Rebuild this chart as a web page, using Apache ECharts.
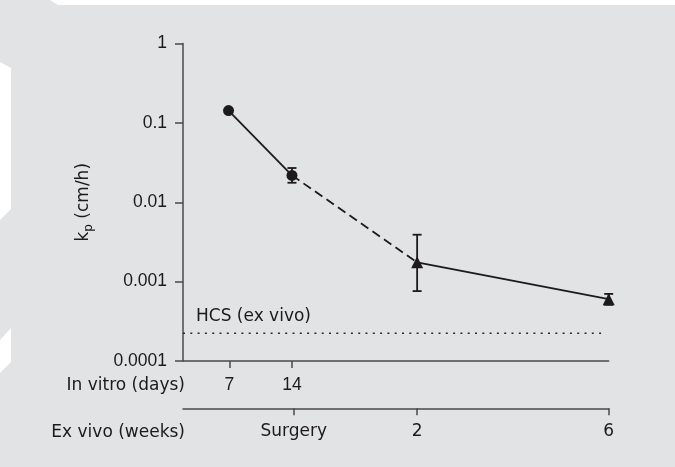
<!DOCTYPE html>
<html>
<head>
<meta charset="utf-8">
<script src="https://cdn.jsdelivr.net/npm/echarts@6/dist/echarts.min.js"></script>
<style>
html,body{margin:0;padding:0;background:#e2e3e5;}
#c{width:675px;height:467px;}
</style>
</head>
<body>
<div id="c"></div>
<script>
// ---- data ----
const yTicks = [0.0001, 0.001, 0.01, 0.1, 1];
const yTickLabels = ['0.0001', '0.001', '0.01', '0.1', '1'];
const inVitroLabels = ['7', '14'];
const inVitroPos = [10.9, 25.6];
const exVivoLabels = ['Surgery', '2', '6'];
const exVivoPos = [26.0, 55.0, 100];
const pointPos = [10.7, 25.6, 55.0, 100];
const kp = [0.143, 0.0218, 0.00175, 0.0006];
const kpHigh = [null, 0.027, 0.0039, 0.0007];
const kpLow = [null, 0.0176, 0.00076, 0.00051];
const pointShape = ['circle', 'circle', 'triangle', 'triangle'];
const hcsValue = 0.000223;
const hcsSpan = [0, 99.2];
const hcsLabel = 'HCS (ex vivo)';

const INK = '#1c1a1b';
const AXIS = '#4a4a4a';
const NUMFONT = 'Liberation Sans';
const TXTFONT = 'DejaVu Sans';

const pts = pointPos.map((x, i) => [x, kp[i]]);
const circles = pts.filter((p, i) => pointShape[i] === 'circle');
const triangles = pts.filter((p, i) => pointShape[i] === 'triangle');
const errData = pointPos.map((x, i) => [x, kpLow[i], kpHigh[i]]).filter(d => d[1] != null);

function lookup(vals, labels, v) {
  for (let i = 0; i < vals.length; i++) if (Math.abs(vals[i] - v) < 1e-6) return labels[i];
  return '';
}
function yLabel(v) {
  const lv = Math.log10(v);
  for (let i = 0; i < yTicks.length; i++) if (Math.abs(Math.log10(yTicks[i]) - lv) < 1e-6) return yTickLabels[i];
  return '';
}

const chart = echarts.init(document.getElementById('c'), null, {renderer: 'canvas'});

const option = {
  backgroundColor: '#e2e3e5',
  animation: false,
  grid: {left: 183, right: 66.3, top: 43.5, bottom: 106, containLabel: false},
  xAxis: [
    {
      type: 'value', min: 0, max: 100, position: 'bottom',
      axisLine: {show: true, onZero: false, lineStyle: {color: AXIS, width: 1.5}},
      axisTick: {show: true, length: 7, customValues: inVitroPos, lineStyle: {color: AXIS, width: 1.5}},
      axisLabel: {show: true, customValues: inVitroPos, margin: 15,
        formatter: v => lookup(inVitroPos, inVitroLabels, v),
        color: INK, fontSize: 17.5, fontFamily: NUMFONT},
      splitLine: {show: false}
    },
    {
      type: 'value', min: 0, max: 100, position: 'bottom', offset: 47.3,
      axisLine: {show: true, onZero: false, lineStyle: {color: AXIS, width: 1.5}},
      axisTick: {show: true, length: 7, customValues: exVivoPos, lineStyle: {color: AXIS, width: 1.5}},
      axisLabel: {show: true, customValues: exVivoPos, margin: 15,
        formatter: v => lookup(exVivoPos, exVivoLabels, v),
        color: INK, fontSize: 17, fontFamily: TXTFONT},
      splitLine: {show: false}
    }
  ],
  yAxis: {
    type: 'log', logBase: 10, min: yTicks[0], max: yTicks[yTicks.length - 1],
    axisLine: {show: true, lineStyle: {color: AXIS, width: 1.5}},
    axisTick: {show: true, length: 8, lineStyle: {color: AXIS, width: 1.5}},
    axisLabel: {margin: 16, formatter: yLabel, color: INK, fontSize: 17.5, fontFamily: NUMFONT},
    splitLine: {show: false},
    minorTick: {show: false},
    name: '{k|k}{p|p}{k| (cm/h)}',
    nameLocation: 'middle', nameRotate: 90, nameGap: 88,
    nameTextStyle: {
      rich: {
        k: {fontSize: 17, fontFamily: TXTFONT, color: INK},
        p: {fontSize: 12, fontFamily: TXTFONT, color: INK, padding: [10, 0, 0, 0]}
      }
    }
  },
  series: [
    {type: 'line', data: [[hcsSpan[0], hcsValue], [hcsSpan[1], hcsValue]], symbol: 'none',
      lineStyle: {color: '#2a2a2a', width: 1.5, type: [2, 5.3]}, silent: true, z: 1},
    {type: 'line', data: pts.slice(0, 2), symbol: 'none', lineStyle: {color: INK, width: 1.8, type: 'solid'}, z: 2},
    {type: 'line', data: pts.slice(1, 3), symbol: 'none', lineStyle: {color: INK, width: 1.8, type: [9, 5]}, z: 2},
    {type: 'line', data: pts.slice(2, 4), symbol: 'none', lineStyle: {color: INK, width: 1.8, type: 'solid'}, z: 2},
    {
      type: 'custom', data: errData, z: 3,
      renderItem: function (params, api) {
        const x = api.value(0);
        const lo = api.coord([x, api.value(1)]);
        const hi = api.coord([x, api.value(2)]);
        const w = 4.5;
        const st = {stroke: INK, lineWidth: 1.8};
        return {type: 'group', children: [
          {type: 'line', shape: {x1: lo[0], y1: lo[1], x2: hi[0], y2: hi[1]}, style: st},
          {type: 'line', shape: {x1: hi[0] - w, y1: hi[1], x2: hi[0] + w, y2: hi[1]}, style: st},
          {type: 'line', shape: {x1: lo[0] - w, y1: lo[1], x2: lo[0] + w, y2: lo[1]}, style: st}
        ]};
      }
    },
    {type: 'scatter', data: circles, symbol: 'circle', symbolSize: 11, itemStyle: {color: INK, opacity: 1}, z: 4},
    {type: 'scatter', data: triangles, symbol: 'triangle', symbolSize: 12, itemStyle: {color: INK, opacity: 1}, z: 4}
  ]
};
chart.setOption(option);

// text labels placed from the axes' own scales
const hcsPix = chart.convertToPixel({xAxisIndex: 0, yAxisIndex: 0}, [hcsSpan[0], hcsValue]);
const ax1Pix = chart.convertToPixel({xAxisIndex: 0, yAxisIndex: 0}, [0, yTicks[0]]);
chart.setOption({
  graphic: [
    {type: 'polygon', shape: {points: [[50, 0], [675, 0], [675, 5], [58, 5]]}, style: {fill: '#ffffff'}, z: -1, silent: true},
    {type: 'polygon', shape: {points: [[0, 62], [11, 68], [11, 209], [0, 220]]}, style: {fill: '#ffffff'}, z: -1, silent: true},
    {type: 'polygon', shape: {points: [[0, 340], [11, 328], [11, 362], [0, 373]]}, style: {fill: '#ffffff'}, z: -1, silent: true},
    {type: 'text', x: hcsPix[0] + 13, y: hcsPix[1] - 17,
      style: {text: hcsLabel, fill: INK, font: '17px "DejaVu Sans"', textAlign: 'left', textVerticalAlign: 'middle'}},
    {type: 'text', x: ax1Pix[0] + 2, y: ax1Pix[1] + 25,
      style: {text: 'In vitro (days)', fill: INK, font: '17px "DejaVu Sans"', textAlign: 'right', textVerticalAlign: 'middle'}},
    {type: 'text', x: ax1Pix[0] + 2, y: ax1Pix[1] + 72,
      style: {text: 'Ex vivo (weeks)', fill: INK, font: '17px "DejaVu Sans"', textAlign: 'right', textVerticalAlign: 'middle'}}
  ]
});
</script>
</body>
</html>
